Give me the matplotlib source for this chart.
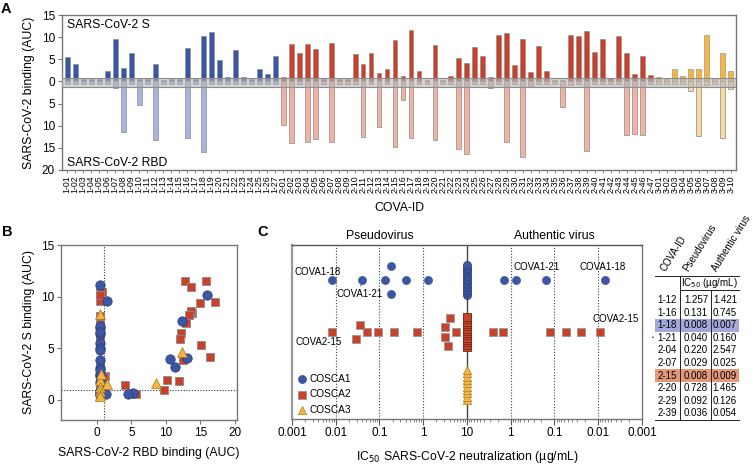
import numpy as np
import matplotlib
matplotlib.use('Agg')
import matplotlib.pyplot as plt
from matplotlib.patches import Rectangle
from matplotlib.lines import Line2D

plt.rcParams['font.family'] = ['Liberation Sans', 'DejaVu Sans']

# ---------------- Panel A data ----------------
ids_cosca1 = [f'1-{i:02d}' for i in range(1, 28)]
ids_cosca2 = [f'2-{i:02d}' for i in range(1, 48)]
ids_cosca3 = [f'3-{i:02d}' for i in range(1, 11)]

cosca1_s = [5.5, 3.9, 0.6, 0.6, 0.6, 2.3, 9.5, 3.0, 6.4, 0.5, 0.5, 4.0, 0.4, 0.5, 0.5, 7.5, 0.5,
            10.2, 11.1, 4.8, 1.1, 7.2, 0.9, 0.5, 2.9, 1.7, 5.8]
cosca1_rbd = [0.5, 0.5, 0.5, 0.5, 0.5, 0.5, 1.4, 11.4, 0.5, 5.3, 0.5, 13.3, 0.5, 0.5, 0.5, 12.8, 0.5,
              16.0, 0.5, 0.5, 0.5, 0.5, 0.5, 0.5, 0.5, 0.5, 0.5]
cosca2_s = [0.9, 8.4, 6.5, 8.5, 7.4, 0.5, 8.6, 0.5, 0.5, 6.2, 3.9, 6.4, 1.8, 2.9, 9.4, 1.3, 11.6, 2.3,
            0.4, 8.2, 0.4, 1.3, 5.2, 4.1, 7.7, 5.8, 1.0, 10.4, 10.9, 3.6, 9.5, 2.2, 8.1, 2.4, 0.4, 0.4,
            10.4, 10.2, 11.5, 6.7, 9.6, 0.8, 10.2, 6.5, 1.7, 5.8, 1.4]
cosca2_rbd = [9.8, 13.8, 0.5, 13.7, 12.9, 0.5, 13.7, 0.5, 0.5, 0.5, 12.6, 0.5, 10.2, 0.5, 14.9, 4.1,
              12.7, 0.5, 0.5, 13.3, 0.5, 0.5, 15.2, 16.4, 0.5, 0.5, 1.4, 0.5, 13.7, 0.5, 17.1, 1.1,
              0.5, 0.5, 0.5, 5.7, 0.8, 0.5, 15.8, 0.5, 0.5, 0.5, 0.5, 12.2, 11.9, 12.2, 0.5]
cosca3_s = [1.0, 0.5, 2.9, 1.3, 2.9, 2.7, 10.4, 0.8, 6.5, 2.3]
cosca3_rbd = [0.5, 0.5, 0.5, 0.5, 2.1, 12.3, 0.8, 0.5, 12.7, 1.7]

# ---------------- Panel B data ----------------
b_cosca1_rbd = [0.5, 0.5, 0.5, 0.5, 0.5, 0.5, 1.4, 11.3, 0.5, 5.3, 0.5, 13.0, 0.5, 0.5, 0.5, 12.4,
                16.0, 0.5, 0.5, 1.3, 0.5, 0.5, 0.5, 0.5, 0.5, 4.5, 10.6]
b_cosca1_s = [5.5, 3.9, 0.6, 0.8, 7.0, 2.3, 9.6, 3.2, 6.4, 0.7, 0.5, 4.1, 3.1, 5.0, 2.5, 7.6,
              10.2, 11.1, 4.8, 0.6, 7.2, 0.9, 6.6, 2.9, 1.7, 0.6, 4.0]
b_cosca2_rbd = [9.7, 13.8, 0.5, 13.7, 12.9, 0.5, 13.6, 0.5, 0.5, 0.5, 12.5, 0.5, 10.1, 0.5, 14.9, 4.1,
                12.7, 0.5, 0.5, 13.3, 0.5, 0.5, 15.1, 16.4, 0.5, 0.5, 1.2, 0.5, 13.6, 0.5, 17.1, 1.1,
                0.5, 0.5, 0.5, 5.6, 0.8, 0.5, 15.8, 0.5, 0.5, 0.5, 0.5, 12.2, 11.9, 12.0, 0.5]
b_cosca2_s = [1.0, 8.4, 6.5, 8.5, 7.4, 0.5, 8.6, 0.5, 0.5, 6.2, 3.9, 6.4, 1.9, 2.9, 9.4, 1.4, 11.5,
              2.3, 0.4, 8.2, 0.4, 1.3, 5.3, 4.2, 7.7, 5.8, 2.3, 10.4, 10.9, 3.6, 9.5, 2.2, 8.1, 2.4,
              0.4, 0.6, 10.4, 10.2, 11.5, 6.7, 9.6, 0.8, 10.2, 6.5, 1.8, 5.9, 1.4]
b_cosca3_rbd = [0.5, 0.5, 0.5, 0.5, 0.5, 0.6, 1.5, 8.5, 12.4, 0.5]
b_cosca3_s = [8.3, 1.9, 1.2, 0.9, 0.5, 2.5, 1.5, 1.6, 4.6, 0.4]

# ---------------- Panel C data (IC50, ug/mL) ----------------
c1_pseudo = [0.008, 0.040, 0.131, 0.18, 0.18, 0.40, 1.257]
c1_auth = [1.421, 0.745, 0.160, 0.007]
c2_pseudo = [0.008, 0.052, 0.093, 0.220, 0.728, 0.036, 0.029, 4.0, 3.1, 3.1, 3.6, 5.7]
c2_auth = [2.547, 1.465, 0.126, 0.054, 0.025, 0.009]
c1_nonneut = 12
c2_nonneut = 14
c3_nonneut = 10
# layout lanes (vertical offsets, px) for overlapping points
c1_pseudo_lane = [0, 0, 0, 14, -14, 0, 0]
c2_pseudo_lane = [0, 0, 0, 0, 0, 7, -7, 14, 5, -5, -14, 0]

# ---------------- Table data ----------------
table_ids = ['1-12', '1-16', '1-18', '1-21', '2-04', '2-07', '2-15', '2-20', '2-29', '2-39']
table_pseudo = [1.257, 0.131, 0.008, 0.040, 0.220, 0.029, 0.008, 0.728, 0.092, 0.036]
table_auth = [1.421, 0.745, 0.007, 0.160, 2.547, 0.025, 0.009, 1.465, 0.126, 0.054]

# colours
C1, C2, C3 = '#3b56a3', '#c9412a', '#f6b53e'
L1, L2, L3 = '#aab4df', '#f1b2a3', '#fcdba1'
SPINE = '#777777'

W, H = 753, 466
fig = plt.figure(figsize=(W / 100, H / 100), dpi=100)


def ax_at(l, t, r, b):
    return fig.add_axes([l / W, 1 - b / H, (r - l) / W, (b - t) / H])


def style_spines(ax, lw=1.0):
    for s in ax.spines.values():
        s.set_color(SPINE)
        s.set_linewidth(lw)


# ================= Panel A =================
axA = ax_at(62, 15, 736, 170)
ids = ids_cosca1 + ids_cosca2 + ids_cosca3
s_vals = np.array(cosca1_s + cosca2_s + cosca3_s)
r_vals = np.array(cosca1_rbd + cosca2_rbd + cosca3_rbd)
xpos = np.arange(len(ids))
cs = [C1] * len(cosca1_s) + [C2] * len(cosca2_s) + [C3] * len(cosca3_s)
cl = [L1] * len(cosca1_s) + [L2] * len(cosca2_s) + [L3] * len(cosca3_s)
axA.bar(xpos, s_vals, width=0.62, color=cs, edgecolor='#888888', linewidth=0.4, zorder=2)
axA.bar(xpos, -r_vals, width=0.62, color=cl, edgecolor='#8a8a8a', linewidth=0.5, zorder=2)
axA.axhspan(-1.15, 0.85, color='#b5b5b5', alpha=0.6, lw=0, zorder=3)
axA.axhline(0.85, color='#8c8c8c', lw=0.8, zorder=3)
axA.axhline(-1.15, color='#8c8c8c', lw=0.8, zorder=3)
axA.set_xlim(-0.65, len(ids) - 0.35)
axA.set_ylim(-20, 15)
yt = [15, 10, 5, 0, -5, -10, -15, -20]
axA.set_yticks(yt)
axA.set_yticklabels([str(abs(v)) for v in yt], fontsize=8.5)
axA.set_xticks(xpos)
axA.set_xticklabels(ids, rotation=90, fontsize=6.3)
axA.tick_params(axis='y', length=3, width=0.8, color=SPINE, pad=2)
axA.tick_params(axis='x', length=2.5, width=0.6, color=SPINE, pad=1.5)
style_spines(axA)
axA.text(0.008, 0.935, 'SARS-CoV-2 S', transform=axA.transAxes, fontsize=8.8, va='center', ha='left')
axA.text(0.008, 0.048, 'SARS-CoV-2 RBD', transform=axA.transAxes, fontsize=8.8, va='center', ha='left')
axA.set_ylabel('SARS-CoV-2 binding (AUC)', fontsize=8.8)
axA.yaxis.set_label_coords((35 - 62) / 674, 0.5)
axA.set_xlabel('COVA-ID', fontsize=8.8, va='top')
axA.xaxis.set_label_coords(0.5, (170 - 202) / 155)

# ================= Panel B =================
axB = ax_at(61, 245, 237, 420)
axB.axvline(1, color='#333333', lw=0.8, ls=(0, (1, 1.5)), zorder=1)
axB.axhline(1, color='#333333', lw=0.8, ls=(0, (1, 1.5)), zorder=1)
axB.scatter(b_cosca2_rbd, b_cosca2_s, marker='s', s=38, c=C2, edgecolors='#8a8a8a', linewidths=0.6, zorder=3)
axB.scatter(b_cosca1_rbd, b_cosca1_s, marker='o', s=46, c=C1, edgecolors='#2b3d78', linewidths=0.5, zorder=4)
axB.scatter(b_cosca3_rbd, b_cosca3_s, marker='^', s=50, c=C3, edgecolors='#a07a30', linewidths=0.5, zorder=5)
axB.set_xlim(-5.2, 20.3)
axB.set_ylim(-1.95, 15)
axB.set_xticks([0, 5, 10, 15, 20])
axB.set_yticks([0, 5, 10, 15])
axB.tick_params(labelsize=8.5, length=3, width=0.8, color=SPINE, pad=2)
style_spines(axB)
axB.set_xlabel('SARS-CoV-2 RBD binding (AUC)', fontsize=8.8, va='top')
axB.xaxis.set_label_coords(0.5, (420 - 447) / 175)
axB.set_ylabel('SARS-CoV-2 S binding (AUC)', fontsize=8.8)
axB.yaxis.set_label_coords((35 - 61) / 176, 0.5)

# ================= Panel C =================
axC = ax_at(292, 245, 642, 419)
axC.set_xlim(-3, 5)
axC.set_ylim(0, 174)


def u_pseudo(v):
    return np.log10(np.asarray(v, dtype=float))


def u_auth(v):
    return 2 - np.log10(np.asarray(v, dtype=float))


for u in [-2, -1, 0, 2, 3, 4]:
    axC.axvline(u, color='#444444', lw=0.8, ls=(0, (1, 1.6)), zorder=1)
axC.axvline(1, color='#444444', lw=1.0, zorder=1)

row1, row2, row3 = 139, 87, 34
ekw1 = dict(marker='o', s=34, c=C1, edgecolors='#4a5b95', linewidths=0.5, zorder=4)
ekw2 = dict(marker='s', s=28, c=C2, edgecolors='#999999', linewidths=0.6, zorder=4)
ekw3 = dict(marker='^', s=36, c=C3, edgecolors='#a88234', linewidths=0.5, zorder=4)
stk1 = dict(ekw1, edgecolors='#2c3c75')
stk2 = dict(ekw2, edgecolors='#7d2818')

# non-neutralizing stacks at 10 ug/mL
axC.scatter(np.full(c1_nonneut, u_pseudo(10)), np.linspace(row1 - 15, row1 + 15, c1_nonneut), **stk1)
axC.scatter(np.full(c2_nonneut, u_pseudo(10)), np.linspace(row2 - 15, row2 + 15, c2_nonneut), **stk2)
axC.scatter(np.full(c3_nonneut, u_pseudo(10)), np.linspace(row3 - 15, row3 + 15, c3_nonneut), **ekw3)

axC.scatter(u_pseudo(c1_pseudo), row1 + np.array(c1_pseudo_lane), **ekw1)
axC.scatter(u_auth(c1_auth), np.full(len(c1_auth), row1), **ekw1)
axC.scatter(u_pseudo(c2_pseudo), row2 + np.array(c2_pseudo_lane), **ekw2)
axC.scatter(u_auth(c2_auth), np.full(len(c2_auth), row2), **ekw2)

# annotations
ann = dict(fontsize=7, ha='center', va='center', textcoords='offset points')
axC.annotate('COVA1-18', (u_pseudo(0.008), row1), xytext=(-10, 6), **ann)
axC.annotate('COVA1-21', (u_pseudo(0.040), row1), xytext=(-2, -10),
             arrowprops=dict(arrowstyle='-', color='#333333', lw=0.6, shrinkA=0, shrinkB=3), **ann)
axC.annotate('COVA2-15', (u_pseudo(0.008), row2), xytext=(-9, -7.5), **ann)
axC.annotate('COVA1-21', (u_auth(0.160), row1), xytext=(-6.5, 9.5), **ann)
axC.annotate('COVA1-18', (u_auth(0.007), row1), xytext=(-2, 9.5), **ann)
axC.annotate('COVA2-15', (u_auth(0.009), row2), xytext=(11, 9.5), **ann)

# ticks
major = list(range(-3, 6))
axC.set_xticks(major)
axC.set_xticklabels(['0.001', '0.01', '0.1', '1', '10', '1', '0.1', '0.01', '0.001'], fontsize=8.5)
minor = []
for k in range(-3, 1):
    minor += [k + np.log10(m) for m in range(2, 10)]
for j in range(1, 5):
    minor += [j + 1 - np.log10(m) for m in range(2, 10)]
axC.set_xticks(minor, minor=True)
axC.set_yticks([])
axC.tick_params(axis='x', which='major', length=4, width=0.8, color='#555555', pad=2)
axC.tick_params(axis='x', which='minor', length=2, width=0.5, color='#555555')
style_spines(axC)
axC.spines['top'].set_color('#555555')
axC.spines['left'].set_color('#999999')
axC.spines['left'].set_linewidth(1.6)
axC.set_xlabel('IC$_{50}$ SARS-CoV-2 neutralization (µg/mL)', fontsize=8.8, va='top')
axC.xaxis.set_label_coords(0.5, (419 - 449) / 174)
axC.text(-1, 1.05, 'Pseudovirus', transform=axC.get_xaxis_transform(), ha='center', va='center', fontsize=8.8)
axC.text(3, 1.05, 'Authentic virus', transform=axC.get_xaxis_transform(), ha='center', va='center', fontsize=8.8)

h1 = axC.scatter([], [], **ekw1)
h2 = axC.scatter([], [], **ekw2)
h3 = axC.scatter([], [], **ekw3)
axC.legend([h1, h2, h3], ['COSCA1', 'COSCA2', 'COSCA3'], loc='lower left', frameon=False,
           fontsize=7.3, handletextpad=0.1, handlelength=1.2, labelspacing=0.55,
           borderaxespad=0.2, borderpad=0.2)

# ================= Overlay (letters + table) =================
axO = fig.add_axes([0, 0, 1, 1])
axO.set_xlim(0, W)
axO.set_ylim(H, 0)
axO.axis('off')
axO.patch.set_alpha(0)
axO.text(6, 9, 'A', fontsize=10.5, fontweight='bold', ha='center', va='center')
axO.text(7, 232, 'B', fontsize=10.5, fontweight='bold', ha='center', va='center')
axO.text(263, 232, 'C', fontsize=10.5, fontweight='bold', ha='center', va='center')

tx0, tx1 = 655, 739
col1, col2 = 680, 711
top_line, ic_line = 276, 290
row0, dy = 300, 12.6
nrow = len(table_ids)
bottom_line = row0 + dy * (nrow - 1) + 6.5
hl = {'1-18': '#a3a8dc', '2-15': '#e3987a'}
for i, cid in enumerate(table_ids):
    yy = row0 + dy * i
    if cid in hl:
        axO.add_patch(Rectangle((tx0, yy - dy / 2), tx1 - tx0, dy, color=hl[cid], lw=0, zorder=1))
    axO.text(677, yy, cid, fontsize=7, ha='right', va='center', zorder=3)
    axO.text(708, yy, f'{table_pseudo[i]:.3f}', fontsize=7, ha='right', va='center', zorder=3)
    axO.text(737, yy, f'{table_auth[i]:.3f}', fontsize=7, ha='right', va='center', zorder=3)
axO.text(653, row0 + dy * table_ids.index('1-21'), '•', fontsize=4, ha='center', va='center')
lk = dict(color='#222222', lw=0.7, zorder=2)
axO.add_line(Line2D([tx0, tx1], [top_line, top_line], **lk))
axO.add_line(Line2D([col1, tx1], [ic_line, ic_line], **lk))
axO.add_line(Line2D([tx0, tx1], [bottom_line, bottom_line], **lk))
axO.add_line(Line2D([col1, col1], [top_line, bottom_line], **lk))
axO.add_line(Line2D([col2, col2], [ic_line, bottom_line], **lk))
axO.text((col1 + tx1) / 2, 283.5, 'IC$_{50}$ (µg/mL)', fontsize=7, ha='center', va='center')
hdr = dict(fontsize=7, rotation=58, rotation_mode='anchor', ha='left', va='bottom')
axO.text(667, 273, 'COVA-ID', **hdr)
axO.text(690, 273, 'Pseudovirus', **hdr)
axO.text(719, 273, 'Authentic virus', **hdr)

fig.savefig('out.png', dpi=100)
